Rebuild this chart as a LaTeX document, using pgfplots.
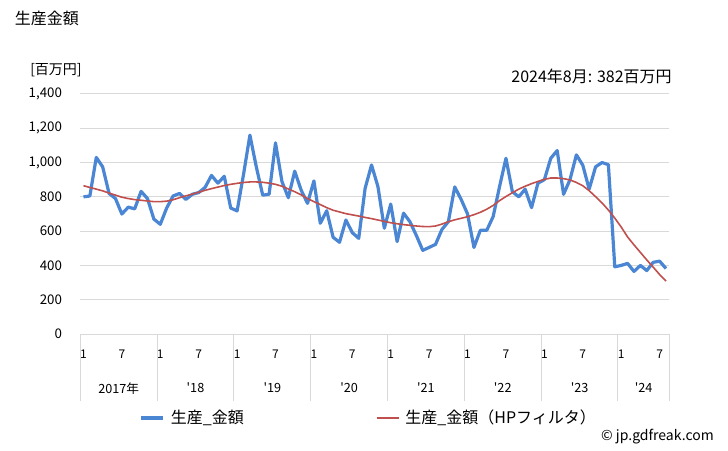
\documentclass[border=0pt]{standalone}
\usepackage{pgfplots}
\pgfplotsset{compat=1.18}
\usepackage{fontspec}
\setmainfont{Noto Sans CJK JP}
\definecolor{bl}{HTML}{4A86D4}
\definecolor{rd}{HTML}{C0504D}
\definecolor{gridc}{HTML}{D9D9D9}
\pgfplotstableread{
m v
0 800
1 805
2 1030
3 975
4 820
5 790
6 700
7 740
8 730
9 832
10 790
11 670
12 640
13 735
14 805
15 820
16 785
17 815
18 825
19 855
20 925
21 880
22 920
23 735
24 718
25 930
26 1160
27 975
28 810
29 815
30 1115
31 890
32 795
33 950
34 840
35 762
36 893
37 646
38 719
39 564
40 535
41 665
42 591
43 558
44 850
45 986
46 860
47 617
48 758
49 539
50 705
51 655
52 575
53 488
54 505
55 523
56 610
57 655
58 858
59 785
60 700
61 505
62 605
63 605
64 685
65 860
66 1025
67 830
68 800
69 845
70 737
71 880
72 900
73 1025
74 1070
75 815
76 900
77 1045
78 985
79 845
80 975
81 1000
82 988
83 392
84 400
85 412
86 365
87 400
88 370
89 418
90 425
91 382
}\blue
\pgfplotstableread{
m v
0 865
1 855
2 845
3 835
4 822
5 810
6 798
7 790
8 784
9 780
10 776
11 772
12 772
13 775
14 783
15 795
16 806
17 816
18 827
19 838
20 848
21 857
22 866
23 873
24 879
25 884
26 887
27 887
28 885
29 880
30 873
31 862
32 846
33 830
34 812
35 790
36 772
37 755
38 737
39 722
40 712
41 702
42 695
43 688
44 680
45 673
46 665
47 657
48 649
49 643
50 638
51 634
52 630
53 627
54 626
55 630
56 641
57 655
58 666
59 675
60 684
61 696
62 710
63 728
64 750
65 778
66 802
67 824
68 845
69 862
70 877
71 890
72 902
73 910
74 910
75 906
76 899
77 884
78 865
79 836
80 801
81 765
82 723
83 676
84 624
85 566
86 520
87 476
88 432
89 390
90 347
91 309
}\red
\begin{document}
\begin{tikzpicture}
\useasboundingbox (0pt,0pt) rectangle (546pt,337.5pt);
\begin{axis}[
  at={(60.2pt,87pt)}, anchor=south west,
  scale only axis, width=441.7pt, height=180pt,
  xmin=-0.5, xmax=91.5, ymin=0, ymax=1400,
  clip=false,
  axis lines*=left,
  y axis line style={draw=none},
  x axis line style={draw=gridc, line width=0.75pt},
  ymajorgrids, grid style={draw=gridc, line width=0.75pt},
  ytick={0,200,...,1400},
  major tick length=0pt,
  /pgf/number format/assume math mode=true,
  /pgf/number format/1000 sep={,},
  yticklabel style={font=\fontsize{10}{12}\selectfont, inner sep=0pt, xshift=-13.5pt},
  xtick={0,6,...,90},
  xticklabels={1,7,1,7,1,7,1,7,1,7,1,7,1,7,1,7},
  xticklabel style={font=\fontsize{9}{11}\selectfont, inner sep=0pt, yshift=-12pt},
  extra x ticks={5.5,17.5,29.5,41.5,53.5,65.5,77.5,87.5},
  extra x tick labels={2017年,\textquotesingle18,\textquotesingle19,\textquotesingle20,\textquotesingle21,\textquotesingle22,\textquotesingle23,\textquotesingle24},
  extra x tick style={grid=none, xticklabel style={yshift=-24.5pt, font=\fontsize{9.5}{11}\selectfont}},
  legend columns=2,
  legend style={at={(0.4905,-0.35)}, anchor=center, draw=none, fill=none,
    font=\fontsize{12}{14}\selectfont,
    /tikz/every even column/.append style={column sep=97pt}},
  legend image code/.code={\draw[#1] (0pt,0pt) -- (16.5pt,0pt); \path (19pt,0pt);},
]
\addplot[bl, line width=2.4pt, line join=round] table[x=m,y=v]{\blue};
\addlegendentry{生産\_金額}
\addplot[rd, line width=1.2pt, line join=round] table[x=m,y=v]{\red};
\addlegendentry{生産\_金額（HPフィルタ）}
\foreach \b in {-0.5,11.5,23.5,35.5,47.5,59.5,71.5,83.5,91.5}{
  \edef\tmp{\noexpand\draw[gridc, line width=0.75pt] (axis cs:\b,0) -- ([yshift=-50pt]axis cs:\b,0);}\tmp
}
\end{axis}
\node[anchor=base west, inner sep=0pt, font=\fontsize{12}{14}\selectfont] at (11pt,319pt) {生産金額};
\node[anchor=base west, inner sep=0pt, font=\fontsize{10.5}{12}\selectfont] at (22.5pt,281.5pt) {[百万円]};
\node[anchor=base east, inner sep=0pt, font=\fontsize{12}{14}\selectfont] at (504pt,275.5pt) {2024年8月: 382百万円};
\node[anchor=base east, inner sep=0pt, font=\fontsize{10.5}{12}\selectfont] at (535.5pt,7pt) {© jp.gdfreak.com};
\end{tikzpicture}
\end{document}
